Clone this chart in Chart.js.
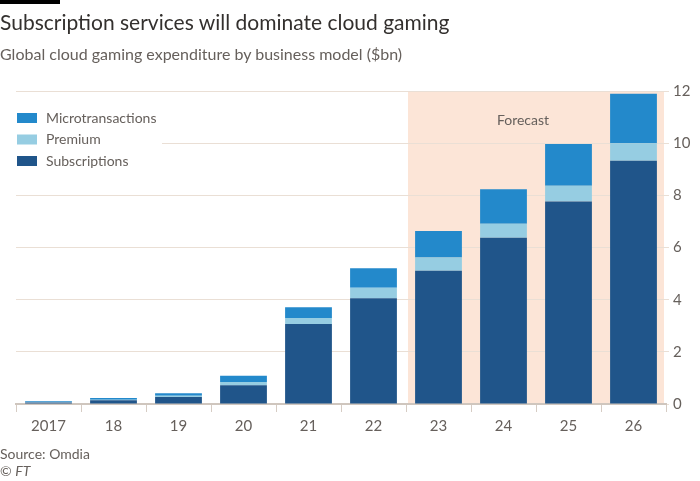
<!DOCTYPE html>
<html>
<head>
<meta charset="utf-8">
<script src="https://cdn.jsdelivr.net/npm/chart.js@4.4.1/dist/chart.umd.min.js"></script>
<style>
  body { margin: 0; width: 700px; height: 481px; position: relative; background: #fff; overflow: hidden; font-family: Lato, "Noto Sans", sans-serif; }
  #bar { position: absolute; left: 0; top: 0; width: 60px; height: 4px; background: #000; }
  #title { position: absolute; left: 0; top: 9px; font-size: 21px; color: #33302e; white-space: nowrap; }
  #subtitle { position: absolute; left: 0; top: 44px; font-size: 16px; color: #66605c; white-space: nowrap; }
  #source { position: absolute; left: 0; top: 445px; font-size: 14px; color: #66605c; line-height: 17px; }
  #wrap { position: absolute; left: 0; top: 0; width: 700px; height: 481px; }
</style>
</head>
<body>
<div id="wrap"><canvas id="chart"></canvas></div>
<div id="bar"></div>
<div id="title">Subscription services will dominate cloud gaming</div>
<div id="subtitle">Global cloud gaming expenditure by business model ($bn)</div>
<div id="source">Source: Omdia<br>© <i>FT</i></div>
<script>
const years = ['2017', '18', '19', '20', '21', '22', '23', '24', '25', '26'];
const subscriptions = [0.06, 0.14, 0.27, 0.72, 3.07, 4.05, 5.11, 6.37, 7.76, 9.33];
const premium = [0.02, 0.02, 0.05, 0.12, 0.23, 0.41, 0.51, 0.54, 0.61, 0.67];
const microtransactions = [0.03, 0.07, 0.09, 0.24, 0.41, 0.74, 1.01, 1.32, 1.60, 1.89];
const yTicks = [0, 2, 4, 6, 8, 10, 12];
const forecastStart = 6; // index of first forecast year

const colors = { subs: '#20558a', prem: '#96cde2', micro: '#2389cb' };
const textGrey = '#66605c';
const fontFamily = 'Lato, "Noto Sans", sans-serif';

// shaded forecast band, drawn before the grid
const forecastBand = {
  id: 'forecastBand',
  beforeDraw(chart) {
    const { ctx, scales: { x, y }, chartArea } = chart;
    const left = x.getPixelForValue(forecastStart - 0.5) + 2;
    const top = y.getPixelForValue(12);
    ctx.save();
    ctx.fillStyle = '#fce5d7';
    ctx.fillRect(left, top, chartArea.right - 2 - left, y.getPixelForValue(0) - top);
    ctx.fillStyle = textGrey;
    ctx.font = '14px ' + fontFamily;
    ctx.textAlign = 'center';
    ctx.textBaseline = 'middle';
    ctx.fillText('Forecast', (left + chartArea.right) / 2 - 14, top + 29);
    ctx.restore();
  }
};

// legend box in the top-left of the plot
const legendBox = {
  id: 'legendBox',
  afterDatasetsDraw(chart) {
    const { ctx } = chart;
    const items = [['Microtransactions', colors.micro], ['Premium', colors.prem], ['Subscriptions', colors.subs]];
    ctx.save();
    ctx.fillStyle = '#fff';
    ctx.fillRect(16, 100, 146, 74);
    ctx.font = '14px ' + fontFamily;
    ctx.textBaseline = 'middle';
    items.forEach((it, i) => {
      const cy = 118 + i * 21.5;
      ctx.fillStyle = it[1];
      ctx.fillRect(17, cy - 5, 20, 10);
      ctx.fillStyle = textGrey;
      ctx.fillText(it[0], 46, cy);
    });
    ctx.restore();
  }
};

new Chart(document.getElementById('chart'), {
  type: 'bar',
  data: {
    labels: years,
    datasets: [
      { label: 'Subscriptions', data: subscriptions, backgroundColor: colors.subs },
      { label: 'Premium', data: premium, backgroundColor: colors.prem },
      { label: 'Microtransactions', data: microtransactions, backgroundColor: colors.micro }
    ]
  },
  options: {
    responsive: true,
    maintainAspectRatio: false,
    animation: false,
    layout: { padding: { left: 16, top: 91, right: 0, bottom: 0 } },
    datasets: { bar: { categoryPercentage: 1, barPercentage: 0.72 } },
    plugins: { legend: { display: false }, tooltip: { enabled: false } },
    scales: {
      x: {
        stacked: true,
        grid: { drawOnChartArea: false, color: '#d6ccc4', tickLength: 8 },
        border: { color: '#cfc6be', width: 2 },
        ticks: { color: textGrey, font: { family: fontFamily, size: 15 }, padding: 5 },
        afterFit(scale) { scale.height = 77; }
      },
      y: {
        stacked: true,
        position: 'right',
        min: 0,
        max: 12,
        afterBuildTicks(scale) { scale.ticks = yTicks.map(v => ({ value: v })); },
        grid: { color: '#eadfd5', tickLength: 3 },
        border: { display: false },
        ticks: { color: textGrey, font: { family: fontFamily, size: 15 }, padding: 4 },
        afterFit(scale) { scale.width = 34; }
      }
    }
  },
  plugins: [forecastBand, legendBox]
});
</script>
</body>
</html>
